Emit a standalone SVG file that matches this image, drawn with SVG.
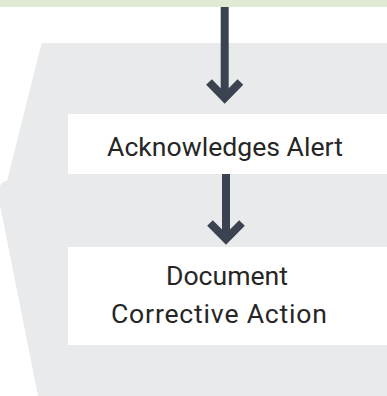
<svg xmlns="http://www.w3.org/2000/svg" width="387" height="396" viewBox="0 0 387 396">
<style>
.lbl{font-family:Roboto,"Liberation Sans",sans-serif;font-size:26.6px;fill:#262626;text-anchor:middle}
.box{fill:#ffffff}
.shaft{stroke:#3c4350;stroke-width:8;fill:none}
.head{stroke:#3c4350;stroke-width:8;fill:none;stroke-linejoin:miter}
</style>
<rect id="topbar" x="0" y="0" width="387" height="7" fill="#dfe9d3"/>
<path id="panel" d="M41.7,43 L387,43 L387,396 L38,396 L0,205 L0,186 Q2,181 7,181 Z" fill="#e9eaec"/>
<g id="node-ack">
<rect class="box" x="68" y="114" width="319" height="60"/>
<text class="lbl" x="225" y="156">Acknowledges Alert</text>
</g>
<g id="node-doc">
<rect class="box" x="68" y="247" width="319" height="98"/>
<text class="lbl" x="227" y="285">Document</text>
<text class="lbl" x="219" y="323" textLength="216" lengthAdjust="spacing">Corrective Action</text>
</g>
<g id="connectors">
<line class="shaft" x1="224.7" y1="7" x2="224.7" y2="98"/>
<polyline class="head" points="209,82 224.7,98 240.4,82"/>
<line class="shaft" x1="226" y1="174" x2="226" y2="239"/>
<polyline class="head" points="210,223 226,239 242,223"/>
</g>
</svg>
